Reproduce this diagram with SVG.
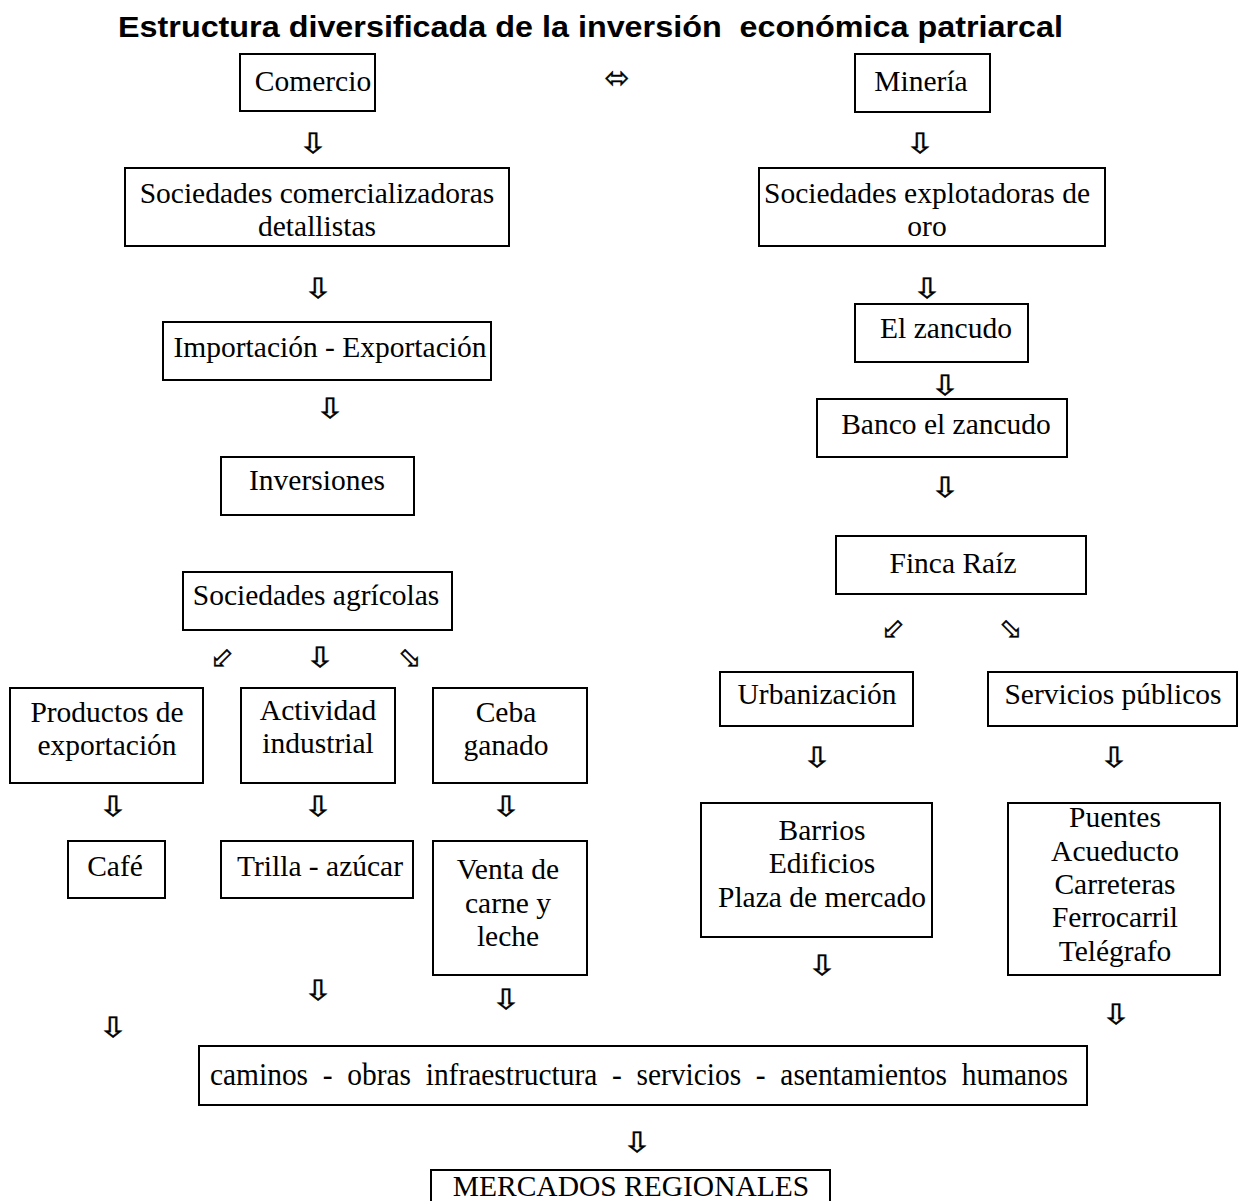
<svg xmlns="http://www.w3.org/2000/svg" width="1239" height="1201" viewBox="0 0 1239 1201">
<style>
.box{fill:#fff;stroke:#000;stroke-width:2}
.t{font-family:"Liberation Serif","Times New Roman",serif;font-size:29.5px;fill:#000;text-anchor:middle}
.title{font-family:"Liberation Sans",Arial,sans-serif;font-size:30px;font-weight:bold;fill:#000;white-space:pre}
.ar{font-family:"DejaVu Sans",sans-serif;font-size:28px;fill:#000;stroke:#000;stroke-width:0.4;text-anchor:middle}
</style>
<rect width="1239" height="1201" fill="#fff"/>
<text class="title" x="118" y="37" textLength="945" lengthAdjust="spacingAndGlyphs">Estructura diversificada de la inversión  económica patriarcal</text>

<g id="connectors">
<text class="ar" x="617" y="88" style="font-size:30px">⬄</text>
<text class="ar" x="313" y="153" textLength="30" lengthAdjust="spacingAndGlyphs">⇩</text>
<text class="ar" x="920" y="153" textLength="30" lengthAdjust="spacingAndGlyphs">⇩</text>
<text class="ar" x="318" y="298" textLength="30" lengthAdjust="spacingAndGlyphs">⇩</text>
<text class="ar" x="927" y="298" textLength="30" lengthAdjust="spacingAndGlyphs">⇩</text>
<text class="ar" x="945" y="395" textLength="30" lengthAdjust="spacingAndGlyphs">⇩</text>
<text class="ar" x="330" y="418" textLength="30" lengthAdjust="spacingAndGlyphs">⇩</text>
<text class="ar" x="945" y="497" textLength="30" lengthAdjust="spacingAndGlyphs">⇩</text>
<text class="ar" x="893" y="638">⬃</text>
<text class="ar" x="1011" y="638">⬂</text>
<text class="ar" x="222" y="667">⬃</text>
<text class="ar" x="320" y="667" textLength="30" lengthAdjust="spacingAndGlyphs">⇩</text>
<text class="ar" x="410" y="667">⬂</text>
<text class="ar" x="817" y="767" textLength="30" lengthAdjust="spacingAndGlyphs">⇩</text>
<text class="ar" x="1114" y="767" textLength="30" lengthAdjust="spacingAndGlyphs">⇩</text>
<text class="ar" x="113" y="816" textLength="30" lengthAdjust="spacingAndGlyphs">⇩</text>
<text class="ar" x="318" y="816" textLength="30" lengthAdjust="spacingAndGlyphs">⇩</text>
<text class="ar" x="506" y="816" textLength="30" lengthAdjust="spacingAndGlyphs">⇩</text>
<text class="ar" x="822" y="975" textLength="30" lengthAdjust="spacingAndGlyphs">⇩</text>
<text class="ar" x="318" y="1000" textLength="30" lengthAdjust="spacingAndGlyphs">⇩</text>
<text class="ar" x="506" y="1009" textLength="30" lengthAdjust="spacingAndGlyphs">⇩</text>
<text class="ar" x="113" y="1037" textLength="30" lengthAdjust="spacingAndGlyphs">⇩</text>
<text class="ar" x="1116" y="1024" textLength="30" lengthAdjust="spacingAndGlyphs">⇩</text>
<text class="ar" x="637" y="1152" textLength="30" lengthAdjust="spacingAndGlyphs">⇩</text>
</g>

<g id="comercio"><rect class="box" x="240" y="54" width="135" height="57"/><text class="t" x="313" y="91">Comercio</text></g>
<g id="mineria"><rect class="box" x="855" y="54" width="135" height="58"/><text class="t" x="921" y="91">Minería</text></g>
<g id="soc-com"><rect class="box" x="125" y="168" width="384" height="78"/><text class="t" x="317" y="203">Sociedades comercializadoras</text><text class="t" x="317" y="236">detallistas</text></g>
<g id="soc-exp"><rect class="box" x="759" y="168" width="346" height="78"/><text class="t" x="927" y="203">Sociedades explotadoras de</text><text class="t" x="927" y="236">oro</text></g>
<g id="importacion"><rect class="box" x="163" y="322" width="328" height="58"/><text class="t" x="330" y="357">Importación - Exportación</text></g>
<g id="zancudo"><rect class="box" x="855" y="304" width="173" height="58"/><text class="t" x="946" y="338">El zancudo</text></g>
<g id="banco"><rect class="box" x="817" y="399" width="250" height="58"/><text class="t" x="946" y="434">Banco el zancudo</text></g>
<g id="inversiones"><rect class="box" x="221" y="457" width="193" height="58"/><text class="t" x="317" y="490">Inversiones</text></g>
<g id="finca"><rect class="box" x="836" y="536" width="250" height="58"/><text class="t" x="953" y="573">Finca Raíz</text></g>
<g id="soc-agr"><rect class="box" x="183" y="572" width="269" height="58"/><text class="t" x="316" y="605">Sociedades agrícolas</text></g>
<g id="productos"><rect class="box" x="10" y="688" width="193" height="95"/><text class="t" x="107" y="722">Productos de</text><text class="t" x="107" y="755">exportación</text></g>
<g id="actividad"><rect class="box" x="241" y="688" width="154" height="95"/><text class="t" x="318" y="720">Actividad</text><text class="t" x="318" y="753">industrial</text></g>
<g id="ceba"><rect class="box" x="433" y="688" width="154" height="95"/><text class="t" x="506" y="722">Ceba</text><text class="t" x="506" y="755">ganado</text></g>
<g id="urbanizacion"><rect class="box" x="720" y="672" width="193" height="54"/><text class="t" x="817" y="704">Urbanización</text></g>
<g id="servicios"><rect class="box" x="988" y="672" width="249" height="54"/><text class="t" x="1113" y="704">Servicios públicos</text></g>
<g id="cafe"><rect class="box" x="68" y="841" width="97" height="57"/><text class="t" x="115" y="876">Café</text></g>
<g id="trilla"><rect class="box" x="221" y="841" width="192" height="57"/><text class="t" x="320" y="876">Trilla - azúcar</text></g>
<g id="venta"><rect class="box" x="433" y="841" width="154" height="134"/><text class="t" x="508" y="879">Venta de</text><text class="t" x="508" y="913">carne y</text><text class="t" x="508" y="946">leche</text></g>
<g id="barrios"><rect class="box" x="701" y="803" width="231" height="134"/><text class="t" x="822" y="840">Barrios</text><text class="t" x="822" y="873">Edificios</text><text class="t" x="822" y="907">Plaza de mercado</text></g>
<g id="puentes"><rect class="box" x="1008" y="803" width="212" height="172"/><text class="t" x="1115" y="827">Puentes</text><text class="t" x="1115" y="861">Acueducto</text><text class="t" x="1115" y="894">Carreteras</text><text class="t" x="1115" y="927">Ferrocarril</text><text class="t" x="1115" y="961">Telégrafo</text></g>
<g id="caminos"><rect class="box" x="199" y="1046" width="888" height="59"/><text class="t" x="210" y="1085" style="text-anchor:start;white-space:pre;font-size:32px" textLength="858" lengthAdjust="spacingAndGlyphs">caminos  -  obras  infraestructura  -  servicios  -  asentamientos  humanos</text></g>
<g id="mercados"><rect class="box" x="431" y="1170" width="399" height="60"/><text class="t" x="631" y="1196">MERCADOS REGIONALES</text></g>
</svg>
